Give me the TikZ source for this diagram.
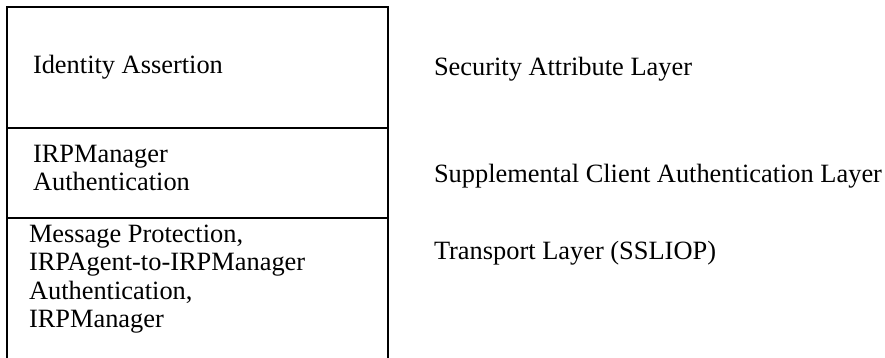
\documentclass[tikz,border=0pt]{standalone}
\usepackage{fontspec}
\setmainfont{Liberation Serif}

\begin{document}
\begin{tikzpicture}[x=0.5pt,y=-0.5pt,line width=1pt,
  cell text/.style={anchor=base west,align=left,inner sep=0pt,font=\fontsize{13.2}{14.25}\selectfont},
  layer text/.style={anchor=base west,inner sep=0pt,font=\fontsize{13.2}{14.25}\selectfont}]

  \useasboundingbox (0,0) rectangle (885,358);

  \draw (7,370) -- (7,7) -- (388,7) -- (388,370);
  \draw (7,128) -- (388,128);
  \draw (7,218) -- (388,218);

  \node[cell text] (idassert) at (32,74) {Identity Assertion};
  \node[cell text] (mgrauth) at (32,191) {IRPManager\\Authentication};
  \node[cell text] (msgprot) at (28,328) {Message Protection,\\IRPAgent-to-IRPManager\\Authentication,\\IRPManager};

  \node[layer text] (secattr) at (433,76) {Security Attribute Layer};
  \node[layer text] (suppauth) at (433,183) {Supplemental Client Authentication Layer};
  \node[layer text] (transport) at (433,260) {Transport Layer (SSLIOP)};

\end{tikzpicture}
\end{document}
